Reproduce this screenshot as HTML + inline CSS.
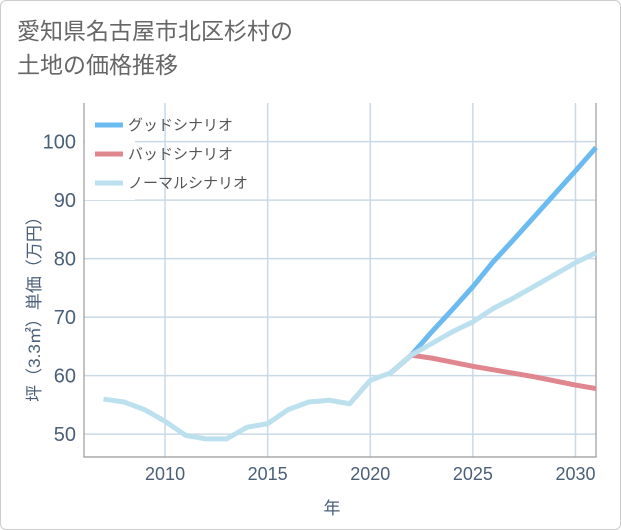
<!DOCTYPE html>
<html><head><meta charset="utf-8"><style>
body{margin:0;background:#fff;}
#wrap{position:relative;width:619px;height:528px;border:1px solid #ccc;border-radius:6px;background:#fff;font-family:"Liberation Sans","Noto Sans CJK JP",sans-serif;overflow:hidden}
#title{position:absolute;left:16px;top:13px;font-size:23px;line-height:34px;color:#666;}
</style></head><body>
<div id="wrap">
<div id="title">愛知県名古屋市北区杉村の<br>土地の価格推移</div>
<svg id="chart" width="621" height="530" style="position:absolute;left:-1px;top:-1px"></svg>
</div>
<script>
const years=[2007,2008,2009,2010,2011,2012,2013,2014,2015,2016,2017,2018,2019,2020,2021,2022,2023,2024,2025,2026,2027,2028,2029,2030,2031];
const normal=[56,55.5,54.2,52.2,49.8,49.2,49.2,51.2,51.8,54.2,55.5,55.8,55.2,59.2,60.5,63.5,65.5,67.5,69.2,71.5,73.3,75.3,77.3,79.3,81];
const goodYears=[2021,2022,2023,2024,2025,2026,2027,2028,2029,2030,2031];
const good=[60.5,63.5,67.5,71.3,75.2,79.5,83.3,87.2,91.1,95,99];
const bad=[60.5,63.5,63,62.3,61.6,61,60.4,59.8,59.1,58.4,57.8];
const xTicks=[2010,2015,2020,2025,2030];
const yTicks=[50,60,70,80,90,100];
const L=84,R=596,T=103,B=457;
const X0=2006.05,X1=2031,Y0=46.1,Y1=106.6;
const sx=v=>L+(v-X0)/(X1-X0)*(R-L);
const sy=v=>B-(v-Y0)/(Y1-Y0)*(B-T);
const svg=document.getElementById('chart');
const NS='http://www.w3.org/2000/svg';
function mk(t,a){const e=document.createElementNS(NS,t);for(const k in a)e.setAttribute(k,a[k]);svg.appendChild(e);return e;}
yTicks.forEach(v=>{
 const l=mk('line',{x1:L,x2:R,y1:sy(v),y2:sy(v),stroke:'#c9d9e6','stroke-width':1.5});
 
 
 const t=mk('text',{x:L-8,y:sy(v)+7,'text-anchor':'end','font-size':20,fill:'#4a5f78'});
 t.textContent=v;
 
 
});
xTicks.forEach(v=>{
 const l=mk('line',{x1:sx(v),x2:sx(v),y1:T,y2:B,stroke:'#c9d9e6','stroke-width':1.5});
 
 
 const t=mk('text',{x:sx(v),y:B+23,'text-anchor':'middle','font-size':18,fill:'#4a5f78'});
 t.textContent=v;
 
 
});
const fr=mk('path',{d:`M${L},${T}V${B}H${R}V${T}`,fill:'none',stroke:'#999','stroke-width':1.2});


function line(xs,ys,color,name){
 const p=mk('polyline',{points:xs.map((x,i)=>sx(x)+','+sy(ys[i])).join(' '),fill:'none',stroke:color,'stroke-width':5,'stroke-linejoin':'round'});
 
 
}
line(goodYears,good,'#6bbaf0','good-scenario-line');
line(goodYears,bad,'#e0868f','bad-scenario-line');
line(years,normal,'#bde0ef','normal-scenario-line');
const lb=mk('rect',{x:L+1,y:112,width:50,height:88,fill:'#fff'});


const leg=[['グッドシナリオ','#6bbaf0'],['バッドシナリオ','#e0868f'],['ノーマルシナリオ','#bde0ef']];
leg.forEach((d,i)=>{
 const y=125+i*29;
 const s=mk('line',{x1:95,x2:123,y1:y,y2:y,stroke:d[1],'stroke-width':5});
 
 
 const t=mk('text',{x:128,y:y+5,'font-size':15,fill:'#555'});
 t.textContent=d[0];
 
 
});
const yt=mk('text',{x:0,y:0,'font-size':17,fill:'#4a5f78','text-anchor':'middle',transform:`translate(40,${(T+B)/2+25}) rotate(-90)`});
yt.textContent='坪（3.3㎡）単価（万円）';


const xt=mk('text',{x:332,y:514,'font-size':17,fill:'#4a5f78','text-anchor':'middle'});
xt.textContent='年';


</script>
</body></html>
